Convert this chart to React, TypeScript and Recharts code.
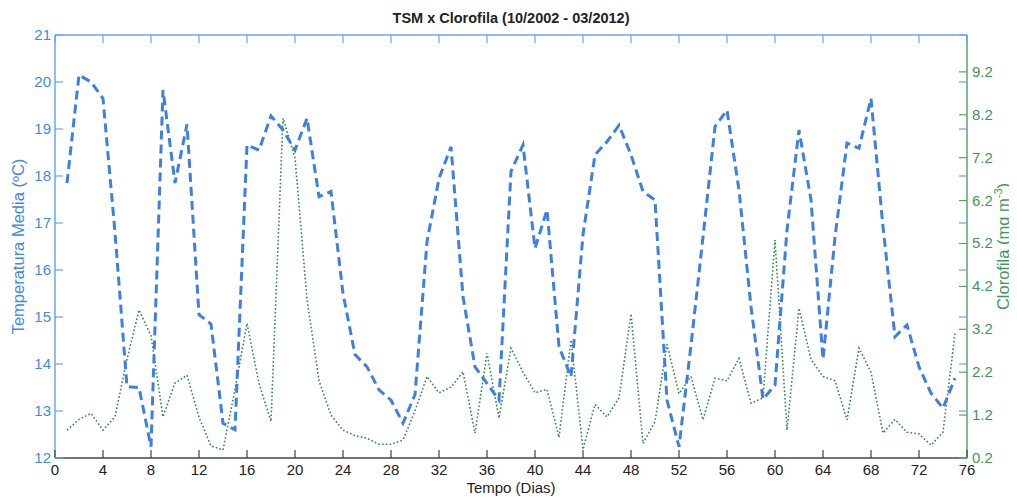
import React from 'react';
import { LineChart, Line, XAxis, YAxis, ReferenceLine, Label } from 'recharts';

const days = [1, 2, 3, 4, 5, 6, 7, 8, 9, 10, 11, 12, 13, 14, 15, 16, 17, 18, 19, 20, 21, 22, 23, 24, 25, 26, 27, 28, 29, 30, 31, 32, 33, 34, 35, 36, 37, 38, 39, 40, 41, 42, 43, 44, 45, 46, 47, 48, 49, 50, 51, 52, 53, 54, 55, 56, 57, 58, 59, 60, 61, 62, 63, 64, 65, 66, 67, 68, 69, 70, 71, 72, 73, 74, 75];

const tsm = [17.85, 20.15, 20.0, 19.65, 16.8, 13.52, 13.5, 12.24, 19.83, 17.85, 19.1, 15.05, 14.85, 12.74, 12.6, 18.66, 18.55, 19.28, 18.98, 18.55, 19.23, 17.56, 17.67, 15.5, 14.2, 13.94, 13.45, 13.23, 12.74, 13.35, 16.6, 17.95, 18.62, 15.43, 13.94, 13.59, 13.23, 18.1, 18.66, 16.46, 17.28, 14.37, 13.73, 16.75, 18.45, 18.73, 19.08, 18.45, 17.67, 17.49, 13.23, 12.24, 14.4, 16.7, 19.05, 19.4, 17.7, 15.22, 13.25, 13.55, 16.85, 18.98, 17.49, 14.1, 16.7, 18.7, 18.59, 19.65, 16.92, 14.58, 14.83, 13.94, 13.38, 13.06, 13.7];

const chl = [0.85, 1.1, 1.24, 0.85, 1.16, 2.5, 3.65, 3.05, 1.16, 1.95, 2.13, 1.15, 0.48, 0.39, 1.8, 3.34, 1.94, 1.05, 8.12, 7.2, 3.9, 2.0, 1.2, 0.85, 0.72, 0.66, 0.52, 0.52, 0.62, 1.3, 2.1, 1.72, 1.85, 2.21, 0.78, 2.64, 1.13, 2.76, 2.2, 1.72, 1.8, 0.68, 2.95, 0.4, 1.45, 1.16, 1.6, 3.56, 0.54, 1.05, 2.85, 1.7, 2.1, 1.09, 2.06, 2.0, 2.52, 1.48, 1.6, 5.28, 0.85, 3.69, 2.5, 2.1, 2.0, 1.09, 2.76, 2.2, 0.78, 1.1, 0.8, 0.76, 0.5, 0.8, 3.1];

const xTicks = [0, 4, 8, 12, 16, 20, 24, 28, 32, 36, 40, 44, 48, 52, 56, 60, 64, 68, 72, 76];
const tempTicks = [12, 13, 14, 15, 16, 17, 18, 19, 20, 21];
const chlTicks = [0.2, 1.2, 2.2, 3.2, 4.2, 5.2, 6.2, 7.2, 8.2, 9.2];

const title = 'TSM x Clorofila (10/2002 - 03/2012)';
const xLabel = 'Tempo (Dias)';
const leftLabel = 'Temperatura Media (ºC)';
const rightLabel = 'Clorofila (mg m';

const data = days.map((t, i) => ({ t, tsm: tsm[i], chl: chl[i] }));

const FONT = '"Liberation Sans", Arial, Helvetica, sans-serif';
const LINE_BLUE = '#3f7fe0';
const AX_BLUE = '#6aa6f0';
const TXT_BLUE = '#3f8ae8';
const LINE_GREEN = '#2f8a4c';
const AX_GREEN = '#5aa36a';
const TXT_GREEN = '#3f9658';
const AX_DARK = '#444';

const W = 1009;
const H = 489;
const M_TOP = 27;
const LEFT_W = 47;
const PLOT_W = 912;
const RIGHT_W = W - LEFT_W - PLOT_W;
const PLOT_H = 423;
const BOTTOM_H = H - M_TOP - PLOT_H;
const TICK = 8;

const LeftTick = (props: any) => {
  const { x, y, payload } = props;
  return (
    <g>
      <line x1={x} x2={x + TICK} y1={y} y2={y} stroke={AX_BLUE} strokeWidth={1.2} />
      <line x1={x + PLOT_W - TICK} x2={x + PLOT_W} y1={y} y2={y} stroke={AX_BLUE} strokeWidth={1.2} />
      <text x={x - 4} y={y} dy={5} textAnchor="end" fill={TXT_BLUE} fontSize={15} fontFamily={FONT}>
        {payload.value}
      </text>
    </g>
  );
};

const RightTick = (props: any) => {
  const { x, y, payload } = props;
  return (
    <g>
      <line x1={x - TICK} x2={x} y1={y} y2={y} stroke={AX_GREEN} strokeWidth={1.2} />
      <text x={x + 5} y={y} dy={5} textAnchor="start" fill={TXT_GREEN} fontSize={15} fontFamily={FONT}>
        {Number(payload.value).toFixed(1)}
      </text>
    </g>
  );
};

const BottomTick = (props: any) => {
  const { x, y, payload } = props;
  return (
    <g>
      <line x1={x} x2={x} y1={y - TICK} y2={y} stroke={AX_DARK} strokeWidth={1.2} />
      <line x1={x} x2={x} y1={y - PLOT_H} y2={y - PLOT_H + TICK} stroke={AX_BLUE} strokeWidth={1.2} />
      <text x={x} y={y + 17} textAnchor="middle" fill="#222" fontSize={15} fontFamily={FONT}>
        {payload.value}
      </text>
    </g>
  );
};

const LeftLabel = (props: any) => {
  const vb = props.viewBox;
  const cx = vb.x + 12;
  const cy = vb.y + vb.height / 2;
  return (
    <text x={cx} y={cy} transform={`rotate(-90 ${cx} ${cy})`} textAnchor="middle" dominantBaseline="middle"
      fill={TXT_BLUE} fontSize={16.5} fontFamily={FONT}>
      {leftLabel}
    </text>
  );
};

const RightLabel = (props: any) => {
  const vb = props.viewBox;
  const cx = vb.x + 38;
  const cy = vb.y + vb.height / 2;
  return (
    <text x={cx} y={cy} transform={`rotate(-90 ${cx} ${cy})`} textAnchor="middle" dominantBaseline="middle"
      fill={TXT_GREEN} fontSize={16.5} fontFamily={FONT}>
      {rightLabel}
      <tspan dy={-6} fontSize={11}>-3</tspan>
      <tspan dy={6}>)</tspan>
    </text>
  );
};

const BottomLabel = (props: any) => {
  const vb = props.viewBox;
  return (
    <text x={vb.x + vb.width / 2} y={vb.y + 35} textAnchor="middle" fill="#222" fontSize={15}
      fontFamily={FONT}>
      {xLabel}
    </text>
  );
};

export default function App() {
  return (
    <div style={{ position: 'relative', width: 1001, height: H, overflow: 'visible' }}>
      <div
        style={{
          position: 'absolute',
          left: LEFT_W,
          width: PLOT_W,
          top: 2,
          textAlign: 'center',
          fontFamily: FONT,
          fontWeight: 'bold',
          fontSize: 14.5,
          lineHeight: '16px',
          color: '#222',
          zIndex: 2,
        }}
      >
        {title}
      </div>
      <LineChart width={W} height={H} data={data} margin={{ top: M_TOP, right: 0, bottom: 0, left: 0 }}>
        <XAxis
          dataKey="t"
          type="number"
          domain={[0, 76]}
          ticks={xTicks}
          interval={0}
          height={BOTTOM_H}
          tickSize={0}
          tickMargin={0}
          tickLine={false}
          tick={<BottomTick />}
          axisLine={{ stroke: AX_DARK, strokeWidth: 1.5 }}
        >
          <Label content={<BottomLabel />} />
        </XAxis>
        <YAxis
          yAxisId="temp"
          orientation="left"
          type="number"
          domain={[12, 21]}
          ticks={tempTicks}
          interval={0}
          width={LEFT_W}
          tickSize={0}
          tickMargin={0}
          tickLine={false}
          tick={<LeftTick />}
          axisLine={{ stroke: AX_BLUE, strokeWidth: 1.5 }}
        >
          <Label content={<LeftLabel />} />
        </YAxis>
        <YAxis
          yAxisId="chl"
          orientation="right"
          type="number"
          domain={[0.2, 10.06]}
          ticks={chlTicks}
          interval={0}
          width={RIGHT_W}
          tickSize={0}
          tickMargin={0}
          tickLine={false}
          tick={<RightTick />}
          axisLine={{ stroke: AX_GREEN, strokeWidth: 1.5 }}
        >
          <Label content={<RightLabel />} />
        </YAxis>
        <ReferenceLine yAxisId="temp" y={21} stroke={AX_BLUE} strokeWidth={1.5} />
        <Line
          yAxisId="chl"
          type="linear"
          dataKey="chl"
          stroke={LINE_GREEN}
          strokeWidth={1.6}
          strokeDasharray="1.6 2.2"
          dot={false}
          isAnimationActive={false}
        />
        <Line
          yAxisId="temp"
          type="linear"
          dataKey="tsm"
          stroke={LINE_BLUE}
          strokeWidth={3}
          strokeDasharray="9 5"
          dot={false}
          isAnimationActive={false}
        />
      </LineChart>
    </div>
  );
}
